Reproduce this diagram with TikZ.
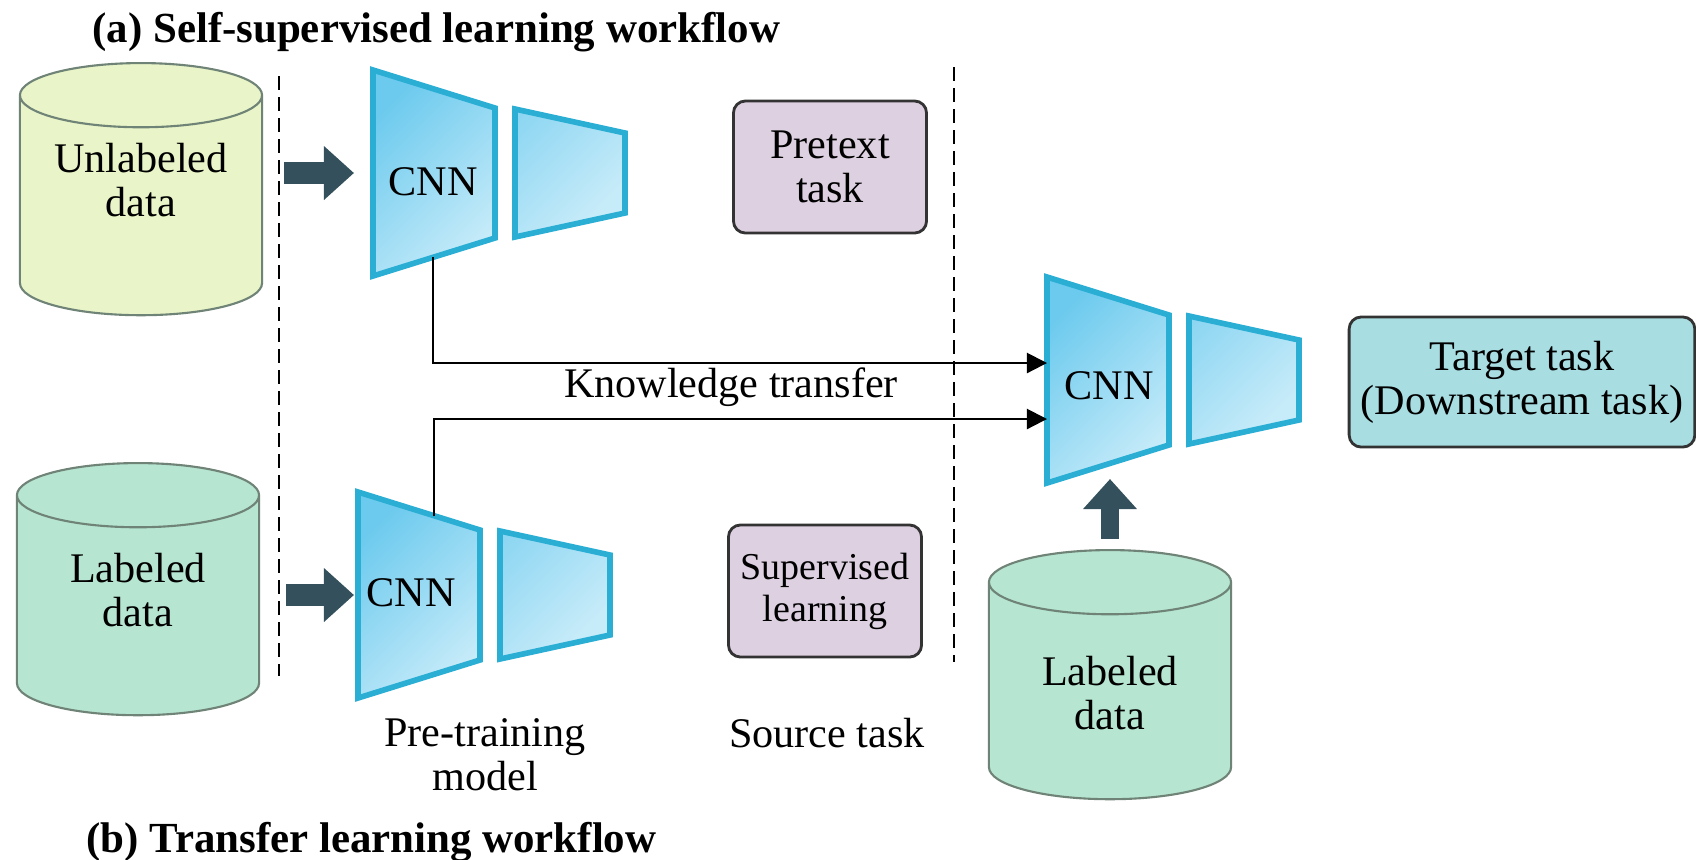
\documentclass[tikz,border=0pt]{standalone}
\usepackage{fontspec}
\setmainfont{Liberation Serif}
\usetikzlibrary{arrows.meta,positioning,calc,shapes.geometric}

\definecolor{datayel}{HTML}{E9F5C8}
\definecolor{datamint}{HTML}{B6E5D1}
\definecolor{cylline}{HTML}{6F8377}
\definecolor{cnnedge}{HTML}{2AAED4}
\definecolor{cnnhi}{HTML}{6CCAEE}
\definecolor{cnnlo}{HTML}{C6EBF9}
\definecolor{slate}{HTML}{33505C}
\definecolor{taskpurple}{HTML}{DDD0E1}
\definecolor{targetteal}{HTML}{A8DDE2}

\newcommand{\encoder}[3]{%
  \coordinate (#1-w) at (#2,#3);
  \path[layer] (#2,#3) ++(0,-103) -- ++(122,38) -- ++(0,130) -- ++(-122,38) -- cycle;
  \path[layer] (#2,#3) ++(142,-64) -- ++(110,24) -- ++(0,80) -- ++(-110,24) -- cycle;
}

\begin{document}
\begin{tikzpicture}[
  x=0.01cm,
  y=-0.01cm,
  font=\fontsize{12}{12.5}\selectfont,
  >={Triangle[length=2mm,width=2mm]},
  flow/.style={->,line width=.6pt},
  block/.style={-{Triangle[length=3mm,width=5.2mm]},line width=2.2mm,draw=slate},
  store/.style={cylinder,shape border rotate=90,aspect=0.33,draw=cylline,anchor=north,
    text width=1.71cm,line width=.6pt,minimum width=2.42cm,minimum height=2.52cm},
  task/.style={draw=black!80,line width=.8pt,rounded corners=1.2mm,
    fill=taskpurple,minimum width=1.93cm,minimum height=1.32cm,align=center},
  layer/.style={draw=cnnedge,line width=1.6pt,top color=cnnhi,
    bottom color=cnnlo,shading angle=45},
  sep/.style={dash pattern=on 1.4mm off .7mm,line width=.5pt},
  caption/.style={font=\fontsize{12.2}{14}\selectfont\bfseries,anchor=base west}
]
\useasboundingbox (0,0) rectangle (1696,859);

\node[caption] (titleA) at (80,42) {(a) Self-supervised learning workflow};
\node[caption] (titleB) at (74,852) {(b) Transfer learning workflow};

\node[store,fill=datayel] (unlab) at (141,62) {};
\node[store,fill=datamint] (labL) at (138,462) {};
\node[store,fill=datamint,minimum height=2.49cm] (labR) at (1110,549) {};
\node[align=center] (unlabtxt) at (141,180) {Unlabeled\\data};
\node[align=center] (labLtxt) at (138,590) {Labeled\\data};
\node[align=center] (labRtxt) at (1110,693) {Labeled\\data};

\draw[sep] (279,76) -- (279,676);
\draw[sep] (954,67) -- (954,662);

\encoder{encA}{373}{173}
\encoder{encB}{358}{595}
\encoder{encC}{1047}{380}
\node (cnnA) at (433,182) {CNN};
\node (cnnB) at (411,593) {CNN};
\node (cnnC) at (1109,386) {CNN};

\node[task] (pretext) at (830,167) {Pretext\\task};
\node[task,font=\fontsize{10.8}{12}\selectfont] (superv) at (825,591)
  {Supervised\\learning};
\node[task,fill=targetteal,minimum width=3.44cm,minimum height=1.3cm] (target)
  at (1522,382) {Target task\\(Downstream task)};

\node (know) at (731,387) {Knowledge transfer};
\node[align=center] (pretrain) at (485,755) {Pre-training\\model};
\node (source) at (827,733) {Source task};

\draw[block,shorten <=2.1mm,shorten >=1.9mm] (unlab.east |- encA-w) -- (encA-w);
\draw[block,shorten <=2.6mm,shorten >=.4mm] (labL.east |- encB-w) -- (encB-w);
\draw[block,line width=1.8mm,shorten <=1mm,shorten >=1.5mm]
  (labR.north) -- (labR.north |- {$(encC-w)+(61,84)$});

\draw[flow] ($(encA-w)+(60,84)$) |- ($(encC-w)+(0,-17)$);
\draw[flow] ($(encB-w)+(76,-79)$) |- ($(encC-w)+(0,39)$);

\end{tikzpicture}
\end{document}
